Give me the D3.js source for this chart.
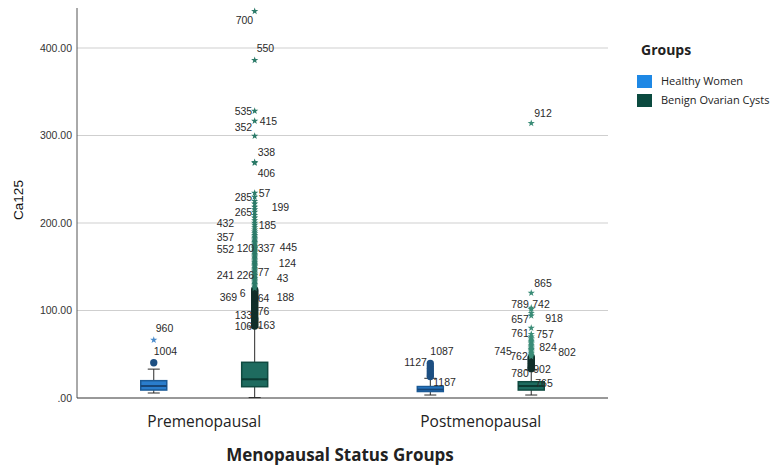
<!DOCTYPE html>
<html>
<head>
<meta charset="utf-8">
<script src="https://cdn.jsdelivr.net/npm/d3@7"></script>
<style>
  html, body { margin: 0; padding: 0; background: #fff; }
  svg { display: block; }
</style>
</head>
<body>
<svg id="chart" width="775" height="468"></svg>
<script>
// Menopausal status groups on the x axis, study groups as paired boxes
const categories = ["Premenopausal", "Postmenopausal"];
const groups = ["Healthy Women", "Benign Ovarian Cysts"];
const yTicks = [0, 100, 200, 300, 400];

// Five-number summaries; rows follow `groups`, columns follow `categories`
const whiskerLow  = [[5.7, 3.4], [0.5, 3.4]];
const quartile1   = [[9.1, 7.4], [12.9, 9.1]];
const medians     = [[13.7, 9.7], [21.4, 13.7]];
const quartile3   = [[19.8, 13.1], [40.8, 18.6]];
const whiskerHigh = [[33.0, 22.5], [81.0, 32.0]];

// Outliers as [case id, Ca125]; "" means the case is not labelled
const mildPreHealthy = [["1004", 40.3]];
const extremePreHealthy = [["960", 66.3]];

const mildPreBenign = [
  ["106", 82.3], ["163", 83.4], ["", 84.5], ["", 86.0], ["", 87.3], ["", 88.6],
  ["", 90.0], ["", 91.2], ["", 92.5], ["133", 94.9], ["", 96.0], ["", 97.5],
  ["76", 99.4], ["", 100.8], ["", 102.2], ["", 103.5], ["", 105.0], ["", 106.4],
  ["", 107.8], ["", 109.2], ["", 110.6], ["", 112.0], ["", 113.2], ["64", 114.3],
  ["188", 114.8], ["369", 115.4], ["", 116.5], ["", 117.8], ["", 119.0], ["6", 120.0],
  ["", 121.3], ["", 122.5], ["", 123.8]
];
const extremePreBenign = [
  ["", 125.5], ["", 127.0], ["", 128.5], ["", 130.0], ["", 131.5], ["", 133.0],
  ["", 134.5], ["", 136.0], ["43", 137.0], ["", 138.5], ["241", 140.0], ["226", 140.6],
  ["", 142.0], ["77", 144.0], ["", 145.5], ["", 147.0], ["", 148.5], ["", 150.0],
  ["", 151.5], ["", 153.0], ["124", 154.3], ["", 155.5], ["", 157.0], ["", 158.5],
  ["", 160.0], ["", 161.5], ["", 163.0], ["", 164.5], ["", 166.0], ["", 167.5],
  ["", 169.0], ["552", 170.3], ["120", 170.8], ["337", 171.5], ["445", 172.0], ["", 173.5],
  ["", 175.0], ["", 176.5], ["", 178.0], ["", 179.5], ["", 181.0], ["", 182.5],
  ["357", 184.0], ["", 186.0], ["", 188.0], ["", 190.0], ["", 192.5], ["", 195.0],
  ["185", 197.7], ["432", 200.0], ["", 203.0], ["", 206.0], ["", 209.0], ["265", 212.6],
  ["", 215.5], ["199", 218.3], ["", 222.0], ["", 225.0], ["285", 229.7], ["57", 234.3],
  ["406", 268.6], ["338", 269.5], ["352", 299.4], ["415", 316.6], ["535", 328.0],
  ["550", 386.0], ["700", 442.0]
];

const mildPostHealthy = [
  ["1187", 24.5], ["", 26.3], ["", 28.6], ["", 31.0], ["", 33.7],
  ["1127", 36.5], ["1087", 39.4]
];
const extremePostHealthy = [];

const mildPostBenign = [
  ["765", 33.5], ["780", 34.0], ["902", 35.2], ["", 36.5], ["", 38.0], ["", 39.5],
  ["", 41.0], ["", 42.5], ["", 44.0], ["", 45.5], ["", 46.8]
];
const extremePostBenign = [
  ["", 47.5], ["", 49.0], ["762", 50.3], ["", 51.5], ["", 53.0], ["745", 54.8],
  ["802", 55.5], ["", 56.0], ["824", 57.5], ["", 59.0], ["", 60.5], ["", 62.0],
  ["", 63.6], ["", 65.0], ["", 66.5], ["", 68.0], ["", 70.0], ["757", 73.0],
  ["761", 80.0], ["918", 94.0], ["657", 97.0], ["742", 101.5], ["789", 103.0],
  ["865", 120.0], ["912", 314.0]
];

// Case-label nudges [dx of text start from the marker, dy], to keep labels apart
const labelNudge = {
  "960": [2, -12], "1004": [0, -11],
  "700": [-19, 9], "550": [2, -12], "535": [-20, 0], "415": [5, 0], "352": [-20, -9],
  "338": [3, -10], "406": [3, 10], "285": [-20, 0], "57": [4, 0], "265": [-20, 0],
  "199": [17, 0], "432": [-38, 0], "185": [4, 0], "357": [-38, 0],
  "552": [-38, 0], "120": [-18, 0], "337": [3, 0], "445": [25, 0], "124": [24, 0],
  "241": [-38, 0], "226": [-18, 0], "77": [3, 0], "43": [22, 0],
  "369": [-35, 0], "6": [-15, 0], "64": [3, 0], "188": [22, 0],
  "133": [-20, 0], "76": [3, 0], "106": [-20, 0], "163": [3, 0],
  "1127": [-26, -4], "1087": [0, -12], "1187": [3, 6],
  "912": [3, -10], "865": [3, -10], "789": [-20, -4], "742": [1, -5],
  "657": [-20, 6], "918": [14, 3], "761": [-20, 5], "757": [5, 0],
  "745": [-37, 1], "762": [-21, 2], "824": [8, 0], "802": [27, 3],
  "780": [-20, 5], "902": [2, 2], "765": [4, 15]
};

const outlierSets = [
  { cat: 0, grp: 0, mild: mildPreHealthy, extreme: extremePreHealthy },
  { cat: 0, grp: 1, mild: mildPreBenign, extreme: extremePreBenign },
  { cat: 1, grp: 0, mild: mildPostHealthy, extreme: extremePostHealthy },
  { cat: 1, grp: 1, mild: mildPostBenign, extreme: extremePostBenign }
];

// Palette
const boxFill   = ["#2a7dcc", "#1e6b5f"];
const boxStroke = ["#1b5a96", "#0f4a40"];
const medianCol = ["#174677", "#0b3a32"];
const circleCol = ["#1d4f82", "#112f2a"];
const starCol   = [["#4a8bcb", "#4a8bcb"], ["#2b7a68", "#3a8c77"]];
const swatch    = ["#1e88e5", "#0b4a3f"];

const svg = d3.select("#chart");
const plot = { left: 77, right: 608, top: 8, bottom: 398 };

const y = d3.scaleLinear().domain([0, 445.7]).range([plot.bottom, plot.top]);
const x = d3.scalePoint().domain(categories).range([plot.left, plot.right]).padding(0.46);
const xSub = d3.scalePoint().domain(groups)
  .range([-x.step() / 2, x.step() / 2]).padding(0.87);
const boxW = 26, capW = 12;

const labelFont = "'Liberation Sans', Arial, sans-serif";

// Gridlines
svg.append("g").selectAll("line").data(yTicks.filter(d => d > 0)).join("line")
  .attr("x1", plot.left).attr("x2", plot.right)
  .attr("y1", d => y(d)).attr("y2", d => y(d))
  .attr("stroke", "#cfcfcf").attr("stroke-width", 1.2);

// Y axis
const yAxis = svg.append("g").attr("transform", `translate(${plot.left},0)`)
  .call(d3.axisLeft(y).tickValues(yTicks).tickSize(0).tickPadding(5)
    .tickFormat(d => d === 0 ? ".00" : d3.format(".2f")(d)));
yAxis.select(".domain").attr("stroke", "#555").attr("d", `M0,${plot.top}V${plot.bottom}`);
yAxis.selectAll("text").attr("font-family", labelFont).attr("font-size", 10.5).attr("fill", "#333");

// X axis line and category labels
svg.append("line").attr("x1", plot.left).attr("x2", plot.right)
  .attr("y1", plot.bottom).attr("y2", plot.bottom).attr("stroke", "#333");
svg.append("g").selectAll("text").data(categories).join("text")
  .attr("x", d => x(d)).attr("y", 427).attr("text-anchor", "middle")
  .attr("font-family", "'Open Sans', sans-serif").attr("font-size", 15.5).attr("fill", "#222")
  .text(d => d);

// Axis titles
svg.append("text").attr("x", 340).attr("y", 461).attr("text-anchor", "middle")
  .attr("font-family", "'Open Sans', sans-serif").attr("font-weight", "bold")
  .attr("font-size", 17).attr("fill", "#222").text("Menopausal Status Groups");
svg.append("text").attr("transform", "translate(23,200) rotate(-90)")
  .attr("text-anchor", "middle").attr("font-family", labelFont)
  .attr("font-size", 13.5).attr("fill", "#111").text("Ca125");

// Boxes and whiskers
const cells = [];
categories.forEach((c, ci) => groups.forEach((g, gi) => cells.push({
  ci, gi, cx: x(c) + xSub(g),
  lo: whiskerLow[gi][ci], q1: quartile1[gi][ci], med: medians[gi][ci],
  q3: quartile3[gi][ci], hi: whiskerHigh[gi][ci]
})));

const box = svg.append("g").selectAll("g").data(cells).join("g");
box.append("line").attr("x1", d => d.cx).attr("x2", d => d.cx)
  .attr("y1", d => y(d.hi)).attr("y2", d => y(d.q3)).attr("stroke", "#2a2a2a");
box.append("line").attr("x1", d => d.cx).attr("x2", d => d.cx)
  .attr("y1", d => y(d.q1)).attr("y2", d => y(d.lo)).attr("stroke", "#2a2a2a");
box.append("line").attr("x1", d => d.cx - capW / 2).attr("x2", d => d.cx + capW / 2)
  .attr("y1", d => y(d.hi)).attr("y2", d => y(d.hi)).attr("stroke", "#2a2a2a");
box.append("line").attr("x1", d => d.cx - capW / 2).attr("x2", d => d.cx + capW / 2)
  .attr("y1", d => y(d.lo)).attr("y2", d => y(d.lo)).attr("stroke", "#2a2a2a");
box.append("rect")
  .attr("x", d => d.cx - boxW / 2).attr("width", boxW)
  .attr("y", d => y(d.q3)).attr("height", d => y(d.q1) - y(d.q3))
  .attr("fill", d => boxFill[d.gi]).attr("stroke", d => boxStroke[d.gi]).attr("stroke-width", 1.5);
box.append("line").attr("x1", d => d.cx - boxW / 2).attr("x2", d => d.cx + boxW / 2)
  .attr("y1", d => y(d.med)).attr("y2", d => y(d.med))
  .attr("stroke", d => medianCol[d.gi]).attr("stroke-width", 2);

// Outlier markers: circles for out values, stars for extremes
const circle = d3.symbol().type(d3.symbolCircle).size(42)();
const star = d3.symbol().type(d3.symbolStar).size(16)();
const labels = [];
const marks = svg.append("g");
outlierSets.forEach(s => {
  const cx = x(categories[s.cat]) + xSub(groups[s.grp]);
  s.mild.forEach(([id, v]) => {
    marks.append("path").attr("d", circle)
      .attr("transform", `translate(${cx},${y(v)})`).attr("fill", circleCol[s.grp]);
    if (id) labels.push({ id, px: cx, py: y(v) });
  });
  s.extreme.forEach(([id, v]) => {
    marks.append("path").attr("d", star)
      .attr("transform", `translate(${cx},${y(v)})`).attr("fill", starCol[s.grp][s.cat]);
    if (id) labels.push({ id, px: cx, py: y(v) });
  });
});

svg.append("g").selectAll("text").data(labels).join("text")
  .attr("x", d => d.px + (labelNudge[d.id] || [3, 0])[0])
  .attr("y", d => d.py + (labelNudge[d.id] || [3, 0])[1])
  .attr("dy", "0.35em")
  .attr("font-family", labelFont).attr("font-size", 10.5).attr("fill", "#2a2a2a")
  .text(d => d.id);

// Legend
const legend = svg.append("g");
legend.append("text").attr("x", 641).attr("y", 55)
  .attr("font-family", "'Open Sans', sans-serif").attr("font-weight", "bold")
  .attr("font-size", 14).attr("fill", "#222").text("Groups");
const items = legend.selectAll("g").data(groups).join("g")
  .attr("transform", (d, i) => `translate(637,${75 + i * 19})`);
items.append("rect").attr("width", 15).attr("height", 13).attr("fill", (d, i) => swatch[i]);
items.append("text").attr("x", 24).attr("y", 6.5).attr("dy", "0.35em")
  .attr("font-family", "'Open Sans', sans-serif").attr("font-size", 11).attr("fill", "#222")
  .text(d => d);
</script>
</body>
</html>
